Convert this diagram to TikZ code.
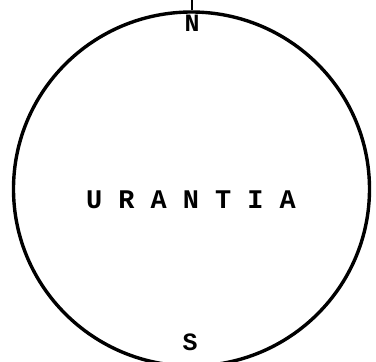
\documentclass[tikz,border=0pt]{standalone}
\usepackage{fontspec}
\newfontfamily\typefont{Liberation Mono}
\usetikzlibrary{shapes.geometric}
\begin{document}
\begin{tikzpicture}[
    x=1bp,y=1bp,
    globe/.style={ellipse,draw,line width=3.4bp,minimum width=356bp,minimum height=354bp,inner sep=0pt},
    pole/.style={font=\typefont\bfseries\fontsize{25}{25}\selectfont,inner sep=0pt},
    title/.style={font=\typefont\bfseries\fontsize{27}{27}\selectfont,inner sep=0pt}
]
\useasboundingbox (0,0) rectangle (376,362);
\clip (0,0) rectangle (376,362);
\node[globe] (urantia) at (191.5,173) {};
\node[title] (name) at (191,162) {U R A N T I A};
\node[pole] (north) at (192,339) {N};
\node[pole] (south) at (190,20) {S};
\coordinate (axis) at (191.5,362);
\draw[line width=2bp] (urantia.north) -- (axis);
\end{tikzpicture}
\end{document}
